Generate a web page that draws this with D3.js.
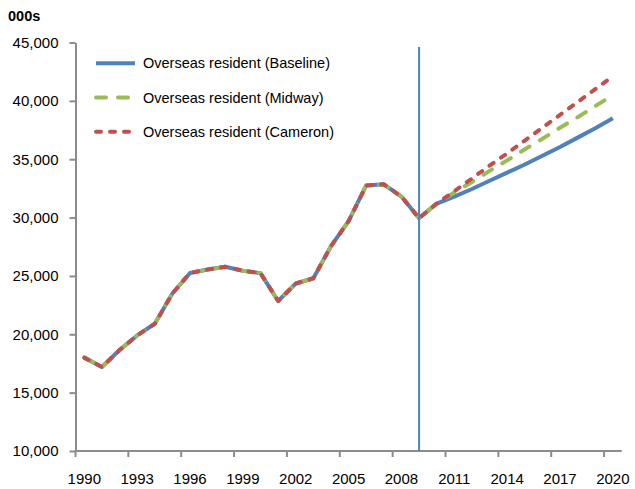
<!DOCTYPE html>
<html lang="en">
<head>
  <meta charset="UTF-8">
  <title>Overseas resident</title>
</head>
<body style="margin:0;background:#fff">
<script src="https://d3js.org/d3.v7.min.js"></script>
<script>

  // data (thousands)
  var years = d3.range(1990, 2021);
  var baseline = [18000, 17200, 18650, 19900, 20900, 23500, 25250, 25550, 25780, 25450,
                  25230, 22850, 24350, 24800, 27550, 29700, 32750, 32850, 31800, 29950,
                  31200, 31800, 32450, 33150, 33850, 34550, 35300, 36050, 36850, 37650, 38500];
  var midway   = [18000, 17200, 18650, 19900, 20900, 23500, 25250, 25550, 25780, 25450,
                  25230, 22850, 24350, 24800, 27550, 29700, 32750, 32850, 31800, 29950,
                  31200, 32150, 33050, 34000, 34900, 35850, 36750, 37700, 38600, 39550, 40500];
  var cameron  = [18000, 17200, 18650, 19900, 20900, 23500, 25250, 25550, 25780, 25450,
                  25230, 22850, 24350, 24800, 27550, 29700, 32750, 32850, 31800, 29950,
                  31200, 32250, 33350, 34450, 35500, 36600, 37700, 38800, 39900, 41000, 42100];
  var yTicks = [10000, 15000, 20000, 25000, 30000, 35000, 40000, 45000];
  var xTicks = d3.range(1990, 2021, 3);
  var markerYear = 2009;

  var series = [
    {name: "Overseas resident (Baseline)", values: baseline, color: "#4f81bd", dash: null},
    {name: "Overseas resident (Midway)", values: midway, color: "#9bbb59", dash: "10,12"},
    {name: "Overseas resident (Cameron)", values: cameron, color: "#c0504d", dash: "5,9"}
  ];

  var w = 635, h = 489;
  var font = "'Liberation Sans', Arial, sans-serif";

  var svg = d3.select("body").append("svg")
          .attr("width", w)
          .attr("height", h);

  var x = d3.scaleBand()
          .domain(years)
          .range([75.5, 621.7])
          .padding(0);
  var cx = function(yr) { return x(yr) + x.bandwidth() / 2; };

  var y = d3.scaleLinear()
          .domain([10000, 45000])
          .range([451, 42.5]);

  // y axis
  var yAxis = d3.axisLeft(y)
          .tickValues(yTicks)
          .tickFormat(d3.format(","))
          .tickSize(6)
          .tickSizeOuter(0)
          .tickPadding(11);

  var gy = svg.append("g")
          .attr("transform", "translate(75.5,0)")
          .call(yAxis);
  gy.select(".domain").attr("stroke", "#8c8c8c").attr("stroke-width", 2);
  gy.selectAll(".tick line").attr("stroke", "#8c8c8c").attr("stroke-width", 2);
  gy.selectAll(".tick text")
          .attr("font-family", font)
          .attr("font-size", "15px")
          .attr("fill", "#000");

  // x axis: ticks on category edges, labels on category centres
  var gx = svg.append("g");
  gx.append("line")
          .attr("x1", x.range()[0] - 1)
          .attr("x2", x.range()[1])
          .attr("y1", y(10000))
          .attr("y2", y(10000))
          .attr("stroke", "#8c8c8c")
          .attr("stroke-width", 2);
  gx.selectAll("line.tk")
          .data(xTicks)
          .enter().append("line")
          .attr("class", "tk")
          .attr("x1", function(d) { return x(d); })
          .attr("x2", function(d) { return x(d); })
          .attr("y1", y(10000))
          .attr("y2", y(10000) + 6)
          .attr("stroke", "#8c8c8c")
          .attr("stroke-width", 2);
  gx.selectAll("text")
          .data(xTicks)
          .enter().append("text")
          .attr("x", function(d) { return cx(d); })
          .attr("y", 484)
          .attr("text-anchor", "middle")
          .attr("font-family", font)
          .attr("font-size", "15px")
          .attr("fill", "#000")
          .text(function(d) { return d; });

  svg.append("text")
          .attr("x", 8)
          .attr("y", 21)
          .attr("font-family", font)
          .attr("font-size", "14.5px")
          .attr("font-weight", "bold")
          .attr("fill", "#000")
          .text("000s");

  // lines
  var line = d3.line()
          .x(function(d, i) { return cx(years[i]); })
          .y(function(d) { return y(d); });

  svg.append("g").selectAll("path")
          .data(series)
          .enter().append("path")
          .attr("d", function(d) { return line(d.values); })
          .attr("fill", "none")
          .attr("stroke", function(d) { return d.color; })
          .attr("stroke-width", 4)
          .attr("stroke-linecap", function(d) { return d.dash ? "round" : "butt"; })
          .attr("stroke-linejoin", "round")
          .attr("stroke-dasharray", function(d) { return d.dash; });

  // vertical marker
  svg.append("line")
          .attr("x1", cx(markerYear))
          .attr("x2", cx(markerYear))
          .attr("y1", 47)
          .attr("y2", y(10000))
          .attr("stroke", "#4f81bd")
          .attr("stroke-width", 2);

  // legend
  var legend = svg.append("g").selectAll("g")
          .data(series)
          .enter().append("g")
          .attr("transform", function(d, i) { return "translate(0," + (63.3 + i * 34.2) + ")"; });
  legend.append("line")
          .attr("x1", 96)
          .attr("x2", 135)
          .attr("stroke", function(d) { return d.color; })
          .attr("stroke-width", 4)
          .attr("stroke-linecap", function(d) { return d.dash ? "round" : "butt"; })
          .attr("stroke-dasharray", function(d) { return d.dash; });
  legend.append("text")
          .attr("x", 143)
          .attr("y", 5)
          .attr("font-family", font)
          .attr("font-size", "14.5px")
          .attr("fill", "#000")
          .text(function(d) { return d.name; });

</script>
</body>
</html>
